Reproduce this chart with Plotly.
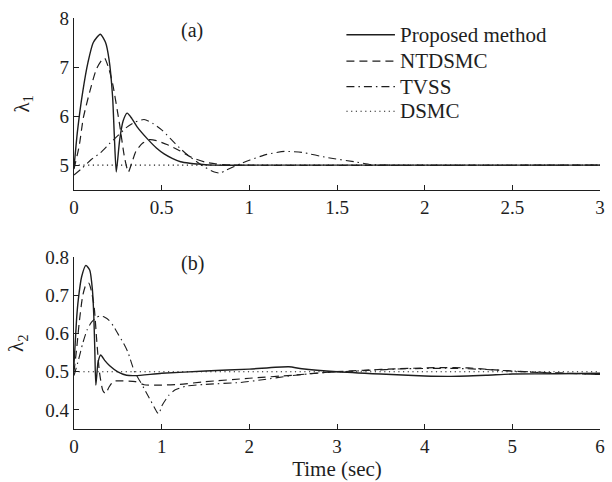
import plotly.graph_objects as go

# ---- lambda_1 responses (top panel) ----
t1_prop = [0, 0.02, 0.05, 0.08, 0.11, 0.15, 0.18, 0.20, 0.22, 0.23, 0.241, 0.26, 0.28, 0.303,
           0.33, 0.36, 0.42, 0.47, 0.514, 0.56, 0.608, 0.66, 0.72, 0.8, 1.0, 3.0]
l1_prop = [4.95, 5.7, 6.5, 7.1, 7.5, 7.67, 7.5, 7.15, 6.4, 5.6, 4.86, 5.5, 5.9, 6.06,
           5.95, 5.78, 5.53, 5.35, 5.23, 5.14, 5.07, 5.04, 5.02, 5.0, 5.0, 5.0]

t1_ntd = [0, 0.03, 0.053, 0.09, 0.128, 0.16, 0.175, 0.20, 0.222, 0.26, 0.288, 0.31, 0.33, 0.354,
          0.392, 0.43, 0.47, 0.53, 0.6, 0.67, 0.75, 0.85, 0.95, 3.0]
l1_ntd = [4.92, 5.4, 5.96, 6.5, 6.96, 7.15, 7.18, 6.95, 6.63, 5.83, 5.16, 4.86, 5.05, 5.29,
          5.45, 5.52, 5.5, 5.42, 5.3, 5.16, 5.06, 5.01, 5.0, 5.0]

t1_tvss = [0, 0.05, 0.1, 0.15, 0.2, 0.25, 0.3, 0.35, 0.4, 0.45, 0.5, 0.55, 0.6, 0.65, 0.7,
           0.75, 0.8, 0.83, 0.87, 0.95, 1.0, 1.1, 1.2, 1.3, 1.45, 1.6, 1.7, 1.8, 3.0]
l1_tvss = [4.8, 4.95, 5.12, 5.25, 5.43, 5.6, 5.77, 5.88, 5.93, 5.85, 5.72, 5.54, 5.36, 5.2, 5.07,
           4.95, 4.86, 4.84, 4.9, 5.03, 5.1, 5.22, 5.28, 5.26, 5.15, 5.07, 5.01, 5.0, 5.0]

t1_dsmc = [0, 3.0]
l1_dsmc = [5.0, 5.0]

# ---- lambda_2 responses (bottom panel) ----
t2_prop = [0, 0.01, 0.03, 0.049, 0.087, 0.136, 0.18, 0.21, 0.226, 0.237, 0.249, 0.275, 0.305,
           0.35, 0.407, 0.5, 0.6, 0.7, 1.0, 1.5, 2.0, 2.45, 2.6, 3.0, 3.5, 4.0, 4.3, 4.7, 5.0, 5.5, 6.0]
l2_prop = [0.52, 0.56, 0.64, 0.689, 0.749, 0.779, 0.766, 0.715, 0.646, 0.56, 0.465, 0.526, 0.544,
           0.53, 0.516, 0.5, 0.491, 0.49, 0.496, 0.502, 0.507, 0.513, 0.508, 0.5, 0.494, 0.489, 0.488,
           0.491, 0.494, 0.495, 0.496]

t2_ntd = [0, 0.03, 0.06, 0.1, 0.14, 0.17, 0.2, 0.23, 0.26, 0.29, 0.33, 0.36, 0.4, 0.45, 0.55,
          0.7, 0.8, 1.0, 1.2, 1.5, 2.0, 2.5, 2.9, 3.3, 3.7, 4.2, 4.5, 4.8, 5.2, 5.6, 6.0]
l2_ntd = [0.5, 0.56, 0.63, 0.7, 0.73, 0.732, 0.71, 0.67, 0.58, 0.5, 0.45, 0.443, 0.46, 0.475, 0.476,
          0.474, 0.466, 0.465, 0.467, 0.474, 0.483, 0.491, 0.499, 0.504, 0.508, 0.511, 0.51, 0.505,
          0.499, 0.496, 0.493]

t2_tvss = [0, 0.05, 0.1, 0.15, 0.2, 0.25, 0.3, 0.35, 0.4, 0.45, 0.5, 0.557, 0.614, 0.69, 0.746,
           0.8, 0.878, 0.953, 0.97, 1.0, 1.08, 1.15, 1.27, 1.5, 1.9, 2.15, 2.45, 2.8, 3.3, 3.8, 4.3,
           4.7, 5.0, 5.4, 6.0]
l2_tvss = [0.49, 0.53, 0.575, 0.61, 0.63, 0.642, 0.646, 0.643, 0.635, 0.62, 0.6, 0.578, 0.552, 0.5,
           0.478, 0.456, 0.423, 0.392, 0.39, 0.41, 0.438, 0.452, 0.462, 0.467, 0.472, 0.479, 0.489,
           0.497, 0.503, 0.508, 0.509, 0.506, 0.502, 0.498, 0.493]

t2_dsmc = [0, 6.0]
l2_dsmc = [0.5, 0.5]

series_names = ["Proposed method", "NTDSMC", "TVSS", "DSMC"]
x1_ticks = [0, 0.5, 1, 1.5, 2, 2.5, 3]
y1_ticks = [5, 6, 7, 8]
x2_ticks = [0, 1, 2, 3, 4, 5, 6]
y2_ticks = [0.4, 0.5, 0.6, 0.7, 0.8]

INK = "#1e1e1e"
FONT = "Liberation Serif"
styles = [
    dict(color=INK, width=1.4, dash="solid"),
    dict(color=INK, width=1.2, dash="8px,5px"),
    dict(color=INK, width=1.1, dash="8px,4px,1.5px,4px"),
    dict(color=INK, width=1.1, dash="1.2px,3.5px"),
]

fig = go.Figure()
top = [(t1_prop, l1_prop), (t1_ntd, l1_ntd), (t1_tvss, l1_tvss), (t1_dsmc, l1_dsmc)]
bot = [(t2_prop, l2_prop), (t2_ntd, l2_ntd), (t2_tvss, l2_tvss), (t2_dsmc, l2_dsmc)]
for name, st, (tx, ty) in zip(series_names, styles, top):
    fig.add_trace(go.Scatter(x=tx, y=ty, mode="lines", name=name, line=dict(shape="spline", smoothing=0.6, **st),
                             xaxis="x", yaxis="y", showlegend=False))
for name, st, (tx, ty) in zip(series_names, styles, bot):
    fig.add_trace(go.Scatter(x=tx, y=ty, mode="lines", name=name, line=dict(shape="spline", smoothing=0.6, **st),
                             xaxis="x2", yaxis="y2", showlegend=False))

axis_common = dict(
    showgrid=False, zeroline=False, showline=True, linecolor=INK, linewidth=1.2,
    ticks="inside", ticklen=5, tickwidth=1.1, tickcolor=INK,
    tickfont=dict(family=FONT, size=19, color=INK), mirror=False,
)

fig.update_layout(
    width=612, height=482,
    margin=dict(l=74, r=7, t=18, b=45),
    paper_bgcolor="white", plot_bgcolor="white",
    xaxis=dict(domain=[0, 1], anchor="y", range=[0, 3], tickvals=x1_ticks,
               ticktext=[f"{v:g}" for v in x1_ticks], **axis_common),
    yaxis=dict(domain=[0.5823, 1], anchor="x", range=[4.5, 8], tickvals=y1_ticks,
               ticktext=[f"{v:g}" for v in y1_ticks],
               title=dict(text="λ<sub>1</sub>", font=dict(family=FONT, size=21, color=INK), standoff=24),
               **axis_common),
    xaxis2=dict(domain=[0, 1], anchor="y2", range=[0, 6], tickvals=x2_ticks,
                ticktext=[f"{v:g}" for v in x2_ticks],
                title=dict(text="Time (sec)", font=dict(family=FONT, size=21, color=INK), standoff=3),
                **axis_common),
    yaxis2=dict(domain=[0, 0.4177], anchor="x2", range=[0.35, 0.8], tickvals=y2_ticks,
                ticktext=[f"{v:g}" for v in y2_ticks],
                title=dict(text="λ<sub>2</sub>", font=dict(family=FONT, size=21, color=INK), standoff=15),
                **axis_common),
    font=dict(family=FONT, color=INK),
)

# panel tags
fig.add_annotation(x=0.675, y=7.75, xref="x", yref="y", text="(a)", showarrow=False,
                   font=dict(family=FONT, size=20, color=INK))
fig.add_annotation(x=1.356, y=0.783, xref="x2", yref="y2", text="(b)", showarrow=False,
                   font=dict(family=FONT, size=20, color=INK))

# key for the four controllers, drawn in the top panel
PLOT_L, PLOT_W, PLOT_B, PLOT_H = 74, 531, 437, 419
def px_to_paper(px, py):
    return (px - PLOT_L) / PLOT_W, (PLOT_B - py) / PLOT_H

key_rows = [35, 62, 88, 113]
for name, st, row in zip(series_names, styles, key_rows):
    x0, y0 = px_to_paper(349, row)
    x1, _ = px_to_paper(398, row)
    xt, _ = px_to_paper(401, row)
    fig.add_shape(type="line", xref="paper", yref="paper", x0=x0, x1=x1, y0=y0, y1=y0,
                  line=dict(color=st["color"], width=st["width"], dash=st["dash"]))
    fig.add_annotation(x=xt, y=y0, xref="paper", yref="paper", text=name, showarrow=False,
                       xanchor="left", yanchor="middle", font=dict(family=FONT, size=21, color=INK))

fig.write_html("out.html")
